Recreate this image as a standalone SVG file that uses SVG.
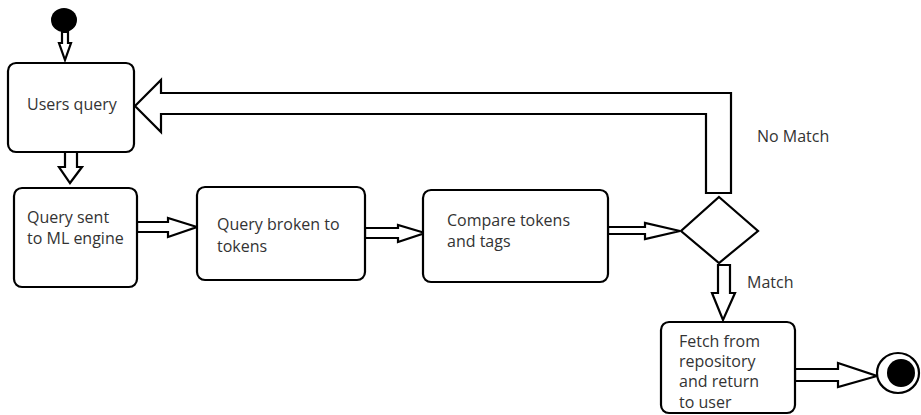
<svg xmlns="http://www.w3.org/2000/svg" width="921" height="415" viewBox="0 0 921 415">
<style>
.box{fill:#fff;stroke:#000;stroke-width:2.2}
.arr{fill:#fff;stroke:#000;stroke-width:2.2;stroke-linejoin:miter}
.lbl{font-family:"Open Sans","Noto Sans",sans-serif;font-size:16px;fill:#333}
</style>
<rect width="921" height="415" fill="#fff"/>
<g id="connectors">
<polygon class="arr" points="62,32 62,43 59,43 65,60 71,43 68,43 68,32"/>
<polygon class="arr" points="65,152 65,167 59,167 70,183 82,167 77,167 77,152"/>
<polygon class="arr" points="137,222 168,222 168,218 197,227 168,237 168,232 137,232"/>
<polygon class="arr" points="365,228 398,228 398,225 425,233 398,242 398,238 365,238"/>
<polygon class="arr" points="608,227 645,227 645,223 680,231 645,239 645,234 608,234"/>
<polygon class="arr" points="706,193 706,114 161,114 161,132 135,106 161,80 161,93 731,93 731,193"/>
<polygon class="arr" points="718,265 718,293 712,293 723,320 735,293 730,293 730,265"/>
<polygon class="arr" points="795,369 838,369 838,363 877,376 838,387 838,381 795,381"/>
<text class="lbl" x="757" y="142">No Match</text>
<text class="lbl" x="747" y="288">Match</text>
</g>
<g id="start">
<ellipse cx="64" cy="20" rx="13" ry="12" fill="#000"/>
</g>
<g id="users-query">
<rect class="box" x="8" y="63" width="126" height="89" rx="8"/>
<text class="lbl" x="27" y="110">Users query</text>
</g>
<g id="query-sent">
<rect class="box" x="14" y="188" width="123" height="99" rx="8"/>
<text class="lbl" x="27" y="223">Query sent</text>
<text class="lbl" x="27" y="244">to ML engine</text>
</g>
<g id="query-broken">
<rect class="box" x="197" y="187" width="168" height="93" rx="8"/>
<text class="lbl" x="217" y="230">Query broken to</text>
<text class="lbl" x="217" y="252">tokens</text>
</g>
<g id="compare">
<rect class="box" x="423" y="190" width="185" height="92" rx="8"/>
<text class="lbl" x="447" y="226">Compare tokens</text>
<text class="lbl" x="447" y="247">and tags</text>
</g>
<g id="decision">
<polygon class="box" points="719,197 758,231 719,263 681,231"/>
</g>
<g id="fetch">
<rect class="box" x="661" y="322" width="134" height="91" rx="8"/>
<text class="lbl" x="679" y="347">Fetch from</text>
<text class="lbl" x="679" y="367">repository</text>
<text class="lbl" x="679" y="387">and return</text>
<text class="lbl" x="679" y="408">to user</text>
</g>
<g id="end">
<ellipse cx="898" cy="373" rx="21" ry="20" fill="#fff" stroke="#000" stroke-width="2.2"/>
<circle cx="901" cy="373" r="14" fill="#000"/>
</g>
</svg>
